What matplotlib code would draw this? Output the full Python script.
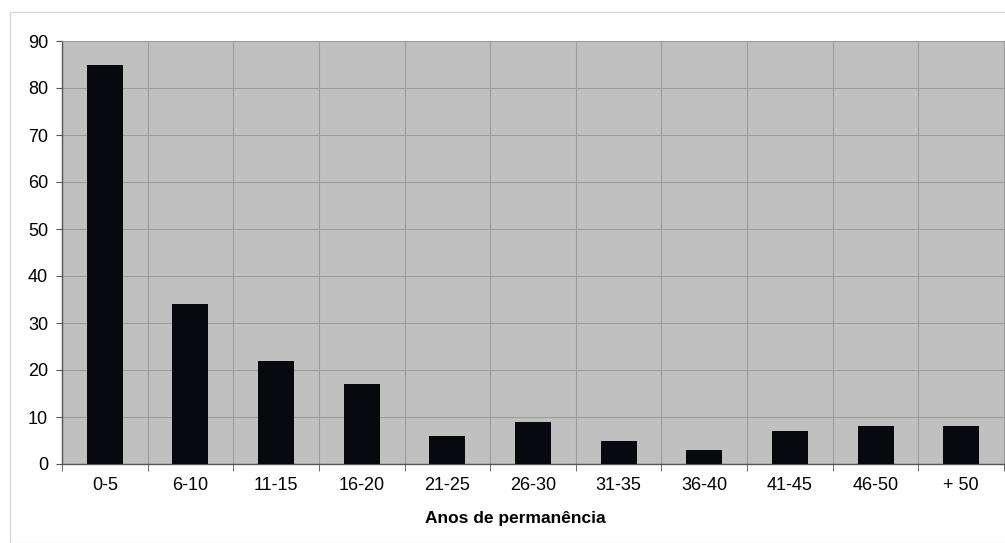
import matplotlib
matplotlib.use("Agg")
import matplotlib.pyplot as plt
from matplotlib.patches import Rectangle
import numpy as np

categories = ["0-5", "6-10", "11-15", "16-20", "21-25", "26-30", "31-35", "36-40", "41-45", "46-50", "+ 50"]
values = [85, 34, 22, 17, 6, 9, 5, 3, 7, 8, 8]
yticks = [0, 10, 20, 30, 40, 50, 60, 70, 80, 90]

plt.rcParams['font.family'] = ['Liberation Sans', 'DejaVu Sans']

fig = plt.figure(figsize=(10.05, 5.43), dpi=100)
fig.patches.append(Rectangle((10/1005, 0), 1, 1 - 12/543, transform=fig.transFigure,
                             fill=False, edgecolor='#d8d8d8', linewidth=1.0))
ax = fig.add_axes([62/1005, 1 - 464/543, 942/1005, (464 - 41)/543])
ax.set_facecolor('#c0c0c0')

x = np.arange(len(categories))
ax.bar(x, values, width=0.42, color='#08080f', zorder=3)

ax.set_xlim(-0.5, len(categories) - 0.5)
ax.set_ylim(0, 90)
ax.set_yticks(yticks)
ax.set_xticks(x)
ax.set_xticklabels(categories, fontsize=13)
ax.tick_params(axis='x', length=0, pad=9)
ax.set_xticks(np.arange(-0.5, len(categories)), minor=True)
ax.tick_params(axis='x', which='minor', length=5, color='#555555', direction='out')
ax.tick_params(axis='y', labelsize=13, length=4, color='#555555', pad=6)

ax.grid(axis='y', which='major', color='#9c9c9c', linewidth=0.8, zorder=1)
ax.grid(axis='x', which='minor', color='#9c9c9c', linewidth=0.8, zorder=1)
ax.grid(axis='x', which='major', visible=False)

for side in ['top', 'right']:
    ax.spines[side].set_color('#9c9c9c')
    ax.spines[side].set_linewidth(0.8)
for side in ['left', 'bottom']:
    ax.spines[side].set_color('#555555')
    ax.spines[side].set_linewidth(1.0)

ax.set_xlabel("Anos de permanência", fontsize=12.5, fontweight='bold')
ax.xaxis.set_label_coords((515 - 62) / 942, -(519 - 464) / 423, transform=ax.transAxes)
ax.xaxis.label.set_verticalalignment('center')

fig.savefig("out.png", dpi=100)
